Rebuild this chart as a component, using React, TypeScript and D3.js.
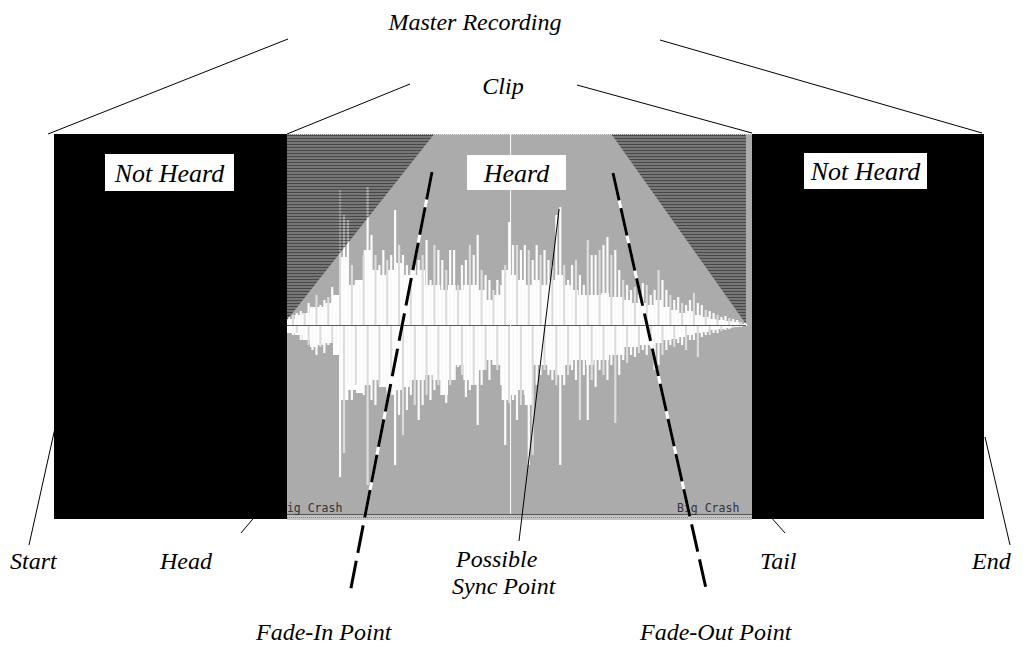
import React from "react";
import * as d3 from "d3";

// ---- waveform amplitudes (pixel-like units, full scale = 190) ----
const upperPeak = [
  8, 10, 12, 14, 12, 22, 18, 30, 20, 25, 28, 38, 10, 135, 110, 105, 60, 45, 40, 70, 138, 90, 70, 60, 75, 65, 70, 115, 80, 70, 60, 55, 60, 65, 70, 85, 45, 80, 75,
  65, 55, 75, 75, 40, 60, 65, 80, 70, 90, 55, 50, 45, 35, 45, 40, 60, 103, 80, 80, 75, 80, 75, 65, 80, 70, 75, 65, 60, 110, 118, 60, 45, 60, 65, 50, 40, 85, 70,
  70, 75, 80, 88, 70, 75, 55, 45, 40, 35, 38, 30, 42, 40, 30, 35, 55, 45, 35, 30, 25, 28, 22, 20, 25, 32, 22, 20, 15, 14, 12, 10, 8, 9, 7, 6, 5, 3, 2,
];
const upperBody = [
  6, 10, 12, 18, 18, 22, 30, 68, 40, 45, 75, 55, 50, 55, 62, 50, 50, 55, 40, 40,
  35, 40, 35, 40, 40, 35, 25, 30, 55, 50, 45, 40, 45, 40, 45, 50, 40, 35, 30, 30,
  30, 32, 28, 28, 25, 22, 22, 20, 25, 18, 15, 12, 14, 10, 8, 6, 5, 4, 3, 1,
];
const lowerPeak = [
  8, 10, 8, 15, 12, 20, 25, 30, 22, 28, 20, 18, 25, 152, 128, 60, 75, 60, 65, 70, 160, 75, 80, 60, 55, 65, 70, 140, 90, 110, 85, 70, 80, 95, 80, 70, 75, 65, 60,
  70, 78, 60, 55, 42, 50, 72, 65, 60, 100, 60, 45, 55, 40, 45, 60, 120, 78, 75, 95, 80, 70, 140, 130, 60, 50, 45, 50, 55, 60, 140, 60, 50, 45, 55, 95, 50, 95, 55,
  62, 45, 50, 55, 40, 98, 50, 35, 38, 30, 32, 28, 25, 30, 22, 45, 40, 30, 25, 20, 22, 18, 20, 25, 15, 15, 32, 12, 10, 10, 8, 8, 6, 5, 4, 3, 2, 2, 1,
];
const lowerBody = [
  8, 10, 15, 22, 20, 18, 30, 75, 65, 68, 60, 55, 62, 70, 65, 62, 55, 55, 50, 55,
  70, 55, 40, 55, 60, 45, 35, 40, 75, 70, 65, 80, 40, 40, 45, 50, 40, 35, 35, 40,
  35, 35, 30, 30, 22, 22, 20, 20, 18, 15, 14, 12, 10, 8, 7, 5, 4, 3, 2, 1,
];

// clip timeline (0..100) : fade-in ends, fade-out starts, sync marker
const fadeInEnd = [32];
const fadeOutStart = [70.5];
const syncMarker = [48.5];

// ---- labels ----
const topLabels = ["Master Recording", "Clip"];
const regionLabels = ["Not Heard", "Heard", "Not Heard"];
const bottomLabels = ["Start", "Head", "Possible", "Sync Point", "Tail", "End"];
const fadeLabels = ["Fade-In Point", "Fade-Out Point"];
const clipName = ["Big Crash"];

export default function App() {
  const W = 1031, H = 651;
  const clipL = 287, clipR = 752, wavR = 747, top = 134, wavBot = 514, blackBot = 519;

  const t = d3.scaleLinear().domain([0, 100]).range([clipL, wavR]);
  const yAmp = d3.scaleLinear().domain([-190, 190]).range([wavBot + 1, top + 1]);
  const cy = yAmp(0);

  const bodyX = d3.scaleLinear().domain([0, upperBody.length]).range([clipL, wavR]);
  const upArea = d3.area<number>().x((_, i) => bodyX(i)).y0(cy).y1((d) => yAmp(d)).curve(d3.curveStepAfter);
  const loArea = d3.area<number>().x((_, i) => bodyX(i)).y0(cy).y1((d) => yAmp(-d)).curve(d3.curveStepAfter);
  const ext = (a: number[]) => [...a, a[a.length - 1]];

  const peakX = d3.scaleBand<number>().domain(d3.range(upperPeak.length)).range([clipL, wavR]);
  const bw = peakX.bandwidth();

  const line = d3.line<[number, number]>();

  const fi = t(fadeInEnd[0]);
  const fo = t(fadeOutStart[0]);
  const hatchL = line([[clipL, top], [fi, top], [clipL, cy - 5], [clipL, top]]) ?? "";
  const hatchR = line([[fo, top], [wavR - 1, top], [wavR - 1, cy - 1], [fo, top]]) ?? "";

  const serif = "'Liberation Serif', 'Times New Roman', serif";
  const mono = "'DejaVu Sans Mono', monospace";

  const thin: [number, number][][] = [
    [[48, 134], [288, 39]],
    [[660, 40], [982, 133]],
    [[287, 134], [410, 84]],
    [[577, 85], [752, 133]],
    [[55, 428], [29, 545]],
    [[263, 507], [241, 533]],
    [[t(syncMarker[0]) + 49, 209], [519, 541]],
    [[762, 507], [785, 533]],
    [[985, 437], [1010, 545]],
  ];
  const dashed: [number, number][][] = [
    [[432, 172], [350, 593]],
    [[613, 173], [707, 593]],
  ];

  const boxes = [
    { x: 105, y: 154, w: 129, h: 37, label: regionLabels[0] },
    { x: 467, y: 155, w: 99, h: 35, label: regionLabels[1] },
    { x: 804, y: 153, w: 123, h: 36, label: regionLabels[2] },
  ];

  return (
    <svg width={W} height={H} viewBox={`0 0 ${W} ${H}`} style={{ position: "absolute", left: 0, top: 0, background: "#fff" }}>
      <defs>
        <pattern id="hatch" width={4} height={3} patternUnits="userSpaceOnUse">
          <rect x={0} y={0} width={4} height={1} fill="rgba(0,0,0,0.58)" />
          <rect x={0} y={1} width={4} height={2} fill="rgba(0,0,0,0.3)" />
        </pattern>
      </defs>

      {/* clip background */}
      <rect x={clipL} y={top} width={clipR - clipL} height={blackBot - top} fill="#ababab" />

      {/* waveform */}
      <path d={upArea(ext(upperBody)) ?? ""} fill="#fff" />
      <path d={loArea(ext(lowerBody)) ?? ""} fill="#fff" />
      {upperPeak.map((d, i) => (
        <line key={"u" + i} x1={(peakX(i) ?? 0) + bw / 2} x2={(peakX(i) ?? 0) + bw / 2} y1={cy} y2={yAmp(d)} stroke={i % 3 === 1 ? "#dcdcdc" : "#fafafa"} strokeWidth={2.2} />
      ))}
      {lowerPeak.map((d, i) => (
        <line key={"l" + i} x1={(peakX(i) ?? 0) + bw / 2} x2={(peakX(i) ?? 0) + bw / 2} y1={cy} y2={yAmp(-d)} stroke={i % 3 === 2 ? "#dcdcdc" : "#fafafa"} strokeWidth={2.2} />
      ))}

      {/* fade hatch */}
      <path d={hatchL} fill="url(#hatch)" />
      <path d={hatchR} fill="url(#hatch)" />

      {/* centre line */}
      <line x1={clipL} x2={wavR - 1} y1={cy + 0.5} y2={cy + 0.5} stroke="#5a5a5a" strokeWidth={1} />
      {/* sync marker */}
      <line x1={t(syncMarker[0]) + 0.5} x2={t(syncMarker[0]) + 0.5} y1={top} y2={wavBot} stroke="#fff" strokeWidth={1} />

      {/* bottom strip */}
      <rect x={clipL} y={wavBot} width={clipR - clipL} height={blackBot - wavBot + 1} fill="#c4c4c4" />
      <line x1={clipL} x2={clipR} y1={wavBot + 0.5} y2={wavBot + 0.5} stroke="#555" strokeWidth={1} />
      <line x1={clipL} x2={clipR} y1={wavBot + 3.5} y2={wavBot + 3.5} stroke="#8a8a8a" strokeWidth={1} strokeDasharray="1 1" />
      <line x1={clipL} x2={clipR} y1={top + 0.5} y2={top + 0.5} stroke="#d8d8d8" strokeWidth={1} strokeDasharray="1 1" />
      <text x={280} y={512} fontFamily={mono} fontSize={11.5} fill="#333">{clipName[0]}</text>
      <text x={677} y={512} fontFamily={mono} fontSize={11.5} fill="#333">{clipName[0]}</text>

      {/* not heard regions */}
      <rect x={54} y={top} width={clipL - 54} height={blackBot - top} fill="#000" />
      <rect x={clipR} y={top} width={984 - clipR} height={blackBot - top} fill="#000" />

      {/* label boxes */}
      {boxes.map((b, i) => (
        <g key={"b" + i}>
          <rect x={b.x} y={b.y} width={b.w} height={b.h} fill="#fff" />
          <text x={b.x + b.w / 2} y={b.y + b.h / 2 + 9} textAnchor="middle" fontFamily={serif} fontStyle="italic" fontSize={26} fill="#000">{b.label}</text>
        </g>
      ))}

      {/* thin annotation lines */}
      {thin.map((p, i) => (
        <path key={"t" + i} d={line(p) ?? ""} stroke="#000" strokeWidth={1} fill="none" />
      ))}

      {/* fade dashed lines */}
      {dashed.map((p, i) => (
        <g key={"d" + i}>
          <path d={line([p[0], [p[0][0] + (p[1][0] - p[0][0]) * 0.82, p[0][1] + (p[1][1] - p[0][1]) * 0.82]]) ?? ""} stroke="#fff" strokeWidth={3} fill="none" />
          <path d={line(p) ?? ""} stroke="#000" strokeWidth={3} strokeDasharray="28 8" fill="none" />
        </g>
      ))}

      {/* texts */}
      <g fontFamily={serif} fontStyle="italic" fontSize={24} fill="#000">
        <text x={475} y={30} textAnchor="middle">{topLabels[0]}</text>
        <text x={503} y={94} textAnchor="middle">{topLabels[1]}</text>
        <text x={10} y={569}>{bottomLabels[0]}</text>
        <text x={160} y={569}>{bottomLabels[1]}</text>
        <text x={456} y={567}>{bottomLabels[2]}</text>
        <text x={452} y={594}>{bottomLabels[3]}</text>
        <text x={760} y={569}>{bottomLabels[4]}</text>
        <text x={972} y={569}>{bottomLabels[5]}</text>
        <text x={256} y={640}>{fadeLabels[0]}</text>
        <text x={640} y={640}>{fadeLabels[1]}</text>
      </g>
    </svg>
  );
}
